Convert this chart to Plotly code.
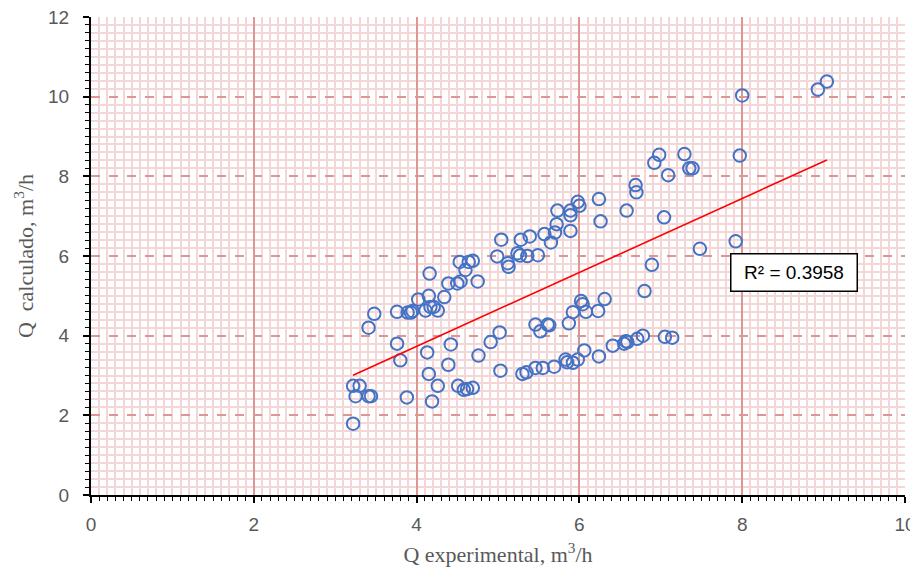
import numpy as np
import plotly.graph_objects as go

q_exp = [3.22, 3.22, 3.30, 3.25, 3.41, 3.44, 3.41, 3.48, 3.76, 3.89, 3.93, 3.95, 4.02, 4.15, 4.16,
         4.11, 4.17, 4.21, 4.26, 4.34, 4.39, 4.50, 4.54, 4.60, 4.53, 4.64, 4.69, 4.75, 3.76, 3.80,
         3.88, 4.13, 4.15, 4.19, 4.26, 4.42, 4.39, 4.51, 4.58, 4.62, 4.69, 4.76, 4.91, 5.02, 5.03,
         5.30, 5.35, 5.46, 5.55, 5.69, 5.83, 5.85, 5.92, 5.98, 6.06, 6.24, 6.41, 6.55, 6.57, 6.59,
         6.71, 6.78, 7.05, 7.14,
         5.46, 5.52, 5.61, 5.63, 5.87, 5.92, 6.02, 6.04, 6.08, 6.23, 6.31, 6.80, 6.89, 7.48, 7.92,
         4.99, 5.04, 5.12, 5.13, 5.24, 5.27, 5.28, 5.39, 5.36, 5.49, 5.57, 5.65, 5.70, 5.73, 5.72,
         5.89, 5.89, 5.89, 5.98, 6.00, 6.24, 6.26, 6.58, 6.69, 6.70, 6.92, 6.98, 7.04, 7.09, 7.29,
         7.35, 7.39, 7.97, 8.00, 8.93, 9.04]
q_calc = [1.79, 2.74, 2.74, 2.48, 2.48, 2.48, 4.20, 4.55, 4.60, 4.58, 4.58, 4.62, 4.91, 5.00, 5.56,
          4.63, 4.72, 4.72, 4.63, 4.97, 5.31, 5.31, 5.36, 5.65, 5.85, 5.85, 5.88, 5.36, 3.80, 3.38,
          2.45, 3.58, 3.04, 2.35, 2.74, 3.78, 3.27, 2.74, 2.64, 2.66, 2.69, 3.50, 3.84, 4.08, 3.12,
          3.04, 3.08, 3.19, 3.19, 3.22, 3.40, 3.33, 3.32, 3.40, 3.63, 3.48, 3.75, 3.80, 3.86, 3.84,
          3.92, 4.00, 3.97, 3.95,
          4.28, 4.11, 4.28, 4.26, 4.31, 4.59, 4.87, 4.79, 4.60, 4.62, 4.92, 5.12, 5.78, 6.18, 6.37,
          5.99, 6.41, 5.82, 5.73, 6.07, 6.01, 6.41, 6.49, 6.00, 6.02, 6.55, 6.34, 6.59, 7.14, 6.80,
          7.14, 7.02, 6.63, 7.36, 7.26, 7.43, 6.87, 7.14, 7.78, 7.60, 8.34, 8.54, 6.97, 8.03, 8.56,
          8.20, 8.20, 8.52, 10.03, 10.18, 10.38]

r2_label = "R² = 0.3958"
x_title = "Q experimental, m<sup>3</sup>/h"
y_title = "Q  calculado, m<sup>3</sup>/h"

xa = np.array(q_exp)
ya = np.array(q_calc)
slope, intercept = np.polyfit(xa, ya, 1)
x_fit = np.array([xa.min(), xa.max()])
y_fit = slope * x_fit + intercept

fig = go.Figure()
fig.add_trace(go.Scatter(
    x=q_exp, y=q_calc, mode="markers",
    marker=dict(symbol="circle-open", size=12.5, color="rgb(68,114,196)",
                line=dict(width=2, color="rgb(68,114,196)")),
    showlegend=False, hoverinfo="skip"))
fig.add_trace(go.Scatter(
    x=x_fit, y=y_fit, mode="lines",
    line=dict(color="rgb(255,0,0)", width=1.6),
    showlegend=False, hoverinfo="skip"))

fig.add_annotation(x=8.64, y=5.59, xref="x", yref="y", text=r2_label, showarrow=False,
                   font=dict(family="Liberation Sans Narrow, Liberation Sans, Arial", size=19, color="black"),
                   bgcolor="white", bordercolor="black", borderwidth=1.5, borderpad=5,
                   width=115, height=26)

tickfont = dict(family="Liberation Sans, Arial", size=19, color="#595959")
titlefont = dict(family="Liberation Serif, Times New Roman", size=22, color="#595959")
major_col = "rgb(221,150,148)"
minor_col = "rgb(244,214,214)"

fig.update_xaxes(range=[0, 10], dtick=2, tick0=0, showgrid=True, gridcolor=major_col, gridwidth=1.5,
                 griddash="solid", automargin=False, ticklabelstandoff=5, ticklabeloverflow="allow",
                 zeroline=False, showline=True, linecolor="black", linewidth=2,
                 ticks="outside", ticklen=6, tickwidth=1.5, tickcolor="black",
                 tickfont=tickfont, title=dict(text=x_title, font=titlefont, standoff=18),
                 minor=dict(dtick=0.1, tick0=0, showgrid=True, gridcolor=minor_col, gridwidth=1.5,
                            griddash="solid",
                            ticks="outside", ticklen=4, tickcolor="black", tickwidth=1))
fig.update_yaxes(range=[0, 12], dtick=2, tick0=0, showgrid=True, gridcolor=major_col, gridwidth=1.5,
                 griddash="dash", automargin=False, ticklabelstandoff=10, ticklabeloverflow="allow",
                 zeroline=False, showline=True, linecolor="black", linewidth=2,
                 ticks="outside", ticklen=6, tickwidth=1.5, tickcolor="black",
                 tickfont=tickfont, title=dict(text=y_title, font=titlefont, standoff=8),
                 minor=dict(dtick=0.2, tick0=0, showgrid=True, gridcolor=minor_col, gridwidth=1.5,
                            griddash="solid",
                            ticks="outside", ticklen=4, tickcolor="black", tickwidth=1))

fig.update_layout(width=910, height=559, margin=dict(l=83, r=13, t=9, b=72),
                  plot_bgcolor="white", paper_bgcolor="white")

fig.write_html("out.html")
